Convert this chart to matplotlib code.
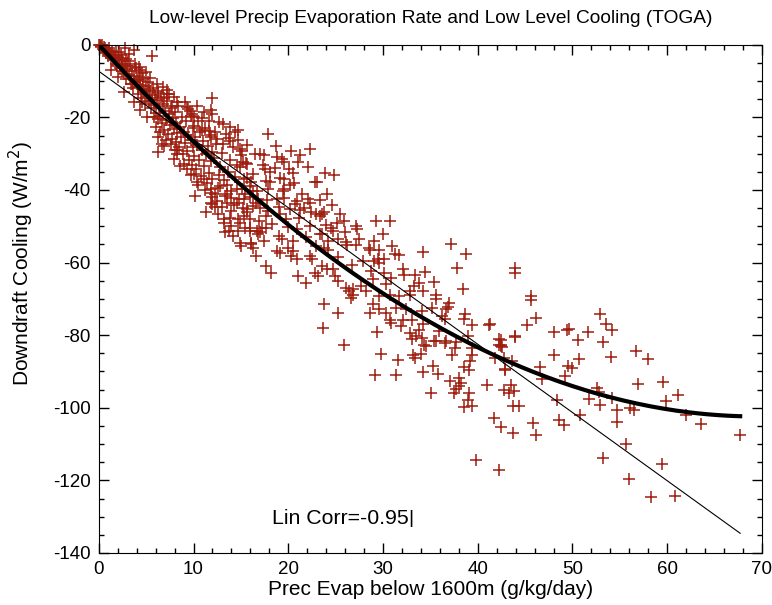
"""
Low-level precip evaporation rate vs low level (downdraft) cooling, TOGA.
Scatter of the samples with a linear and a cubic fit.
"""

import numpy as np
import matplotlib.pyplot as plt
from matplotlib.ticker import MultipleLocator

plt.rcParams['font.family'] = ['Liberation Sans', 'DejaVu Sans']
plt.rcParams['axes.unicode_minus'] = False

# --- data ----------------------------------------------------------------
# dense cloud near the origin (x 0-15)
evap_dense = [0.1, 0.2, 0.3, 0.4, 0.5, 0.6, 0.7, 0.8, 0.9, 1.0, 1.1, 1.2, 1.3, 1.4, 1.5,
              1.6, 1.7, 1.8, 1.9, 2.0, 2.1, 2.2, 2.3, 2.4, 2.5, 2.6, 2.7, 2.8, 2.9, 3.0,
              3.1, 3.2, 3.3, 3.4, 3.5, 3.6, 3.7, 3.8, 3.9, 4.0, 4.1, 4.2, 4.3, 4.4, 4.5,
              4.6, 4.7, 4.8, 4.9, 5.0, 5.1, 5.2, 5.3, 5.4, 5.5, 5.6, 5.7, 5.8, 5.9, 6.0,
              6.1, 6.2, 6.3, 6.4, 6.5, 6.6, 6.7, 6.8, 6.9, 7.0, 7.1, 7.2, 7.3, 7.4, 7.5,
              7.6, 7.7, 7.8, 7.9, 8.0, 8.1, 8.2, 8.3, 8.4, 8.5, 8.6, 8.7, 8.8, 8.9, 9.0,
              9.1, 9.2, 9.3, 9.4, 9.5, 9.6, 9.7, 9.8, 9.9, 10.0, 10.1, 10.2, 10.3, 10.4, 10.5,
              10.6, 10.7, 10.8, 10.9, 11.0, 11.1, 11.2, 11.3, 11.4, 11.5, 11.6, 11.7, 11.8, 11.9, 12.0,
              12.2, 12.4, 12.6, 12.8, 13.0, 13.2, 13.4, 13.6, 13.8, 14.0, 14.2, 14.4, 14.6, 14.8, 15.0,
              5.6, 3.7, 2.8, 1.8, 2.5, 1.3, 2.0, 4.4, 4.6, 3.4, 4.1, 5.3, 6.2, 7.2, 6.9,
              2.7, 3.7, 4.4, 5.1, 6.0, 6.3, 6.7, 7.6, 8.3, 6.3, 9.3, 9.8, 0.0, 0.2, 0.5,
              2.1, 2.4, 2.9, 3.2, 3.5, 3.8, 4.2, 4.6, 5.0, 5.4, 5.8, 6.1, 6.5, 6.8, 7.1,
              7.4, 7.7, 8.0, 8.3, 9.0, 9.4, 9.7, 10.1, 10.5, 10.9, 11.2, 11.6, 12.0, 12.3, 12.7,
              13.1, 13.5, 13.9, 14.3, 14.7]
cool_dense = [-0.2, -0.5, -0.1, -1.2, -0.6, -1.8, -0.9, -2.4, -1.5, -3.1, -0.8, -2.2, -3.6, -1.7, -4.3,
              -2.9, -3.8, -1.9, -5.9, -3.3, -4.6, -6.4, -2.7, -7.3, -4.1, -6.0, -8.1, -5.2, -9.4, -6.8,
              -4.4, -8.2, -5.9, -9.3, -7.1, -12.0, -8.6, -10.2, -6.5, -9.8, -13.5, -8.9, -11.1, -10.0, -14.8,
              -12.3, -9.5, -13.1, -16.2, -11.4, -14.0, -10.3, -15.6, -12.8, -17.3, -14.6, -11.9, -16.5, -13.7, -18.9,
              -15.2, -20.4, -12.6, -17.0, -19.5, -14.4, -21.6, -16.3, -23.5, -18.2, -20.7, -15.5, -24.6, -19.1, -22.0,
              -17.4, -25.9, -20.3, -23.1, -18.6, -26.8, -21.5, -24.2, -16.9, -28.1, -22.6, -25.3, -19.8, -30.2, -23.9,
              -27.0, -21.1, -29.4, -24.8, -31.8, -18.2, -26.1, -33.0, -28.3, -22.4, -30.6, -25.5, -34.1, -27.6, -20.9,
              -31.7, -24.0, -36.2, -29.0, -26.6, -33.4, -22.8, -30.1, -38.0, -27.9, -35.3, -24.9, -32.0, -29.5, -36.9,
              -31.1, -27.3, -39.4, -33.6, -29.8, -37.2, -24.5, -35.0, -31.7, -40.3, -28.2, -36.4, -33.1, -42.6, -30.4,
              -3.1, -1.5, -1.0, -5.2, -5.6, -7.0, -8.8, -7.0, -7.9, -10.7, -11.6, -12.5, -13.4, -12.5, -14.8,
              -13.0, -15.7, -18.0, -19.9, -22.7, -25.4, -27.3, -27.3, -29.1, -29.6, -17.1, -19.0, 0.0, -0.3, -1.4,
              -2.0, -3.6, -4.0, -2.6, -10.9, -5.3, -6.2, -15.8, -7.6, -9.1, -19.8, -10.8, -24.0, -11.5, -26.3,
              -13.6, -21.4, -28.9, -15.7, -32.8, -17.6, -36.0, -19.9, -38.6, -23.5, -40.1, -21.0, -42.0, -23.9, -35.8,
              -27.2, -38.5, -22.6, -44.2, -26.1]

# x 6-17
evap_low = [11.9, 11.8, 12.0, 14.7, 14.4, 12.7, 13.1, 13.7, 13.9, 14.9, 15.6, 10.4, 11.1, 10.9, 9.7,
            9.9, 11.6, 11.8, 12.5, 7.9, 7.2, 7.7, 9.1, 6.9, 7.9, 8.3, 8.6, 9.3, 10.0, 10.4,
            11.1, 10.2, 11.8, 12.3, 11.8, 12.3, 13.3, 13.5, 14.0, 14.7, 15.3, 16.0, 16.7, 12.8, 14.6,
            14.9, 16.3, 13.2, 14.0, 16.0]
cool_low = [-14.7, -18.1, -19.1, -23.4, -24.1, -21.4, -21.8, -25.8, -26.4, -28.7, -32.9, -16.8, -18.6, -20.2, -19.5,
            -22.9, -23.7, -25.5, -26.0, -14.4, -13.5, -16.8, -15.8, -27.8, -31.5, -30.1, -33.3, -34.3, -35.6, -37.9,
            -37.0, -41.6, -39.8, -41.2, -43.5, -44.8, -41.6, -43.5, -45.8, -48.1, -37.0, -38.9, -40.2, -38.9, -39.8,
            -33.8, -44.4, -49.0, -49.9, -50.4]

# x 11-33
evap_mid = [17.9, 18.7, 17.0, 17.4, 15.1, 18.8, 19.3, 19.5, 20.3, 21.2, 21.0, 22.3, 22.1, 15.5, 15.2,
            17.5, 18.1, 20.1, 20.5, 19.1, 19.5, 22.8, 23.0, 16.3, 15.6, 16.1, 17.7, 18.1, 20.2, 19.4,
            17.9, 15.1, 15.4, 16.3, 16.8, 16.6, 18.8, 19.5, 20.9, 20.7, 22.1, 22.3, 21.7, 21.2, 22.9,
            23.3, 15.6, 15.3, 17.0, 17.9, 17.7, 19.1, 19.8, 20.2, 17.2, 16.7, 16.8, 17.7, 19.0, 19.3,
            20.9, 20.5, 22.3, 23.3, 24.2, 18.8, 19.1, 16.1, 16.3, 20.0, 20.5, 20.3, 20.9, 22.3, 22.5,
            16.6, 17.7, 18.2, 21.0, 21.9, 22.8, 23.1, 14.9, 15.0, 16.0, 16.1, 17.0, 17.4, 14.0, 14.6,
            15.3, 15.6, 16.0, 14.9, 15.4, 13.3, 13.7, 14.2, 14.7, 11.3, 11.9, 12.5, 13.0, 12.6, 13.2,
            13.9, 11.8, 13.5,
            15.2, 15.6, 16.0, 16.5, 16.9, 17.3, 17.8, 18.3, 18.6, 19.0, 19.6, 20.0, 20.6, 21.1, 21.5,
            21.9, 22.4, 22.9, 23.4, 24.0, 24.6, 25.3, 26.0, 26.7, 27.5, 28.2, 29.0, 30.3, 31.0, 32.4]
cool_mid = [-24.6, -27.8, -30.1, -30.4, -29.2, -31.0, -31.5, -32.2, -29.2, -30.4, -32.4, -28.7, -33.8, -32.6, -32.2,
            -34.3, -35.0, -34.3, -35.2, -36.8, -37.0, -37.8, -37.9, -35.6, -36.8, -37.9, -37.5, -37.8, -38.7, -40.2,
            -39.8, -39.8, -41.2, -40.2, -42.5, -43.5, -42.5, -42.1, -43.0, -43.9, -42.4, -43.5, -45.1, -45.5, -46.7,
            -47.2, -46.2, -47.2, -45.1, -45.8, -47.2, -46.7, -48.1, -45.3, -50.4, -51.3, -52.2, -50.4, -52.7, -53.6,
            -50.8, -54.1, -49.9, -52.2, -54.1, -56.8, -57.5, -55.0, -55.9, -55.9, -56.8, -58.2, -59.1, -58.2, -59.1,
            -58.2, -61.0, -62.8, -63.7, -65.6, -63.0, -63.7, -54.5, -55.4, -51.3, -54.5, -51.7, -54.1, -42.1, -43.5,
            -42.5, -45.3, -48.1, -49.0, -50.4, -51.7, -51.3, -52.7, -51.3, -46.2, -43.9, -43.0, -44.8, -46.7, -48.1,
            -47.6, -40.7, -41.2,
            -44.9, -27.6, -41.9, -30.2, -48.6, -33.2, -42.9, -49.4, -33.9, -44.6, -39.6, -50.3, -38.2, -47.7, -41.2,
            -53.0, -46.1, -55.3, -42.8, -49.7, -44.2, -58.4, -51.6, -60.8, -53.4, -67.9, -54.1, -66.0, -55.4, -72.7]

# x 23-36
evap_upper = [23.9, 24.8, 24.1, 23.8, 23.6, 25.5, 25.9, 25.1, 24.5, 24.7, 29.3, 30.7, 27.2, 27.3, 30.0,
              23.6, 25.2, 26.1, 26.2, 23.8, 24.2, 27.2, 28.5, 28.6, 29.6, 31.3, 31.7, 27.9, 29.5, 30.1,
              29.1, 29.6, 23.6, 24.1, 24.7, 24.9, 25.2, 28.7, 28.9, 30.1, 30.8, 32.1, 32.2, 27.7, 26.8,
              26.1, 26.4, 26.8, 26.6, 29.6, 30.7, 31.7, 32.8, 23.8, 25.2, 28.6, 28.9, 29.6, 30.3, 30.7,
              30.8, 31.4, 32.1, 31.9, 23.7, 29.4, 32.8, 25.9, 29.8, 31.6, 29.2, 31.4, 34.5, 35.4]
cool_upper = [-35.4, -35.9, -41.2, -46.2, -46.7, -46.7, -48.5, -49.0, -50.6, -51.3, -48.5, -48.5, -49.9, -50.8, -52.2,
              -52.2, -53.6, -54.3, -55.2, -55.9, -56.4, -55.2, -55.9, -56.4, -56.4, -57.7, -58.0, -59.6, -58.9, -59.1,
              -59.6, -60.0, -61.0, -61.9, -61.7, -63.7, -65.1, -62.3, -64.4, -62.8, -64.2, -61.7, -63.3, -66.5, -67.4,
              -66.9, -67.9, -68.8, -69.7, -69.2, -68.8, -69.1, -68.8, -71.5, -73.8, -73.8, -71.5, -72.9, -73.8, -75.7,
              -76.6, -72.5, -75.7, -77.5, -78.0, -79.2, -79.4, -82.6, -85.1, -86.9, -91.1, -91.1, -82.9, -81.7]

# x 32-45
evap_far = [37.2, 34.2, 38.8, 37.8, 43.9, 43.9, 33.4, 34.4, 35.4, 33.8, 33.3, 32.9, 34.2, 38.4, 35.6,
            35.6, 37.0, 36.9, 36.7, 35.2, 36.2, 36.5, 38.7, 38.6, 34.1, 33.1, 34.2, 33.8, 39.4, 41.3,
            41.2, 39.0, 35.9, 35.6, 36.5, 36.7, 37.7, 37.6, 33.5, 34.1, 34.3, 33.1, 33.2, 33.4, 34.0,
            42.2, 42.5, 42.2, 42.6, 43.9, 39.4, 39.4, 39.2, 37.3, 41.8, 42.8, 42.9, 41.0, 35.3, 35.8,
            34.2, 38.6, 39.1, 37.1, 38.0, 38.2, 38.0, 37.7, 37.5, 39.1, 35.1, 39.0, 39.4, 38.5, 41.7,
            39.8]
cool_far = [-55.0, -57.1, -57.7, -61.6, -61.4, -62.8, -63.3, -62.6, -65.4, -65.7, -66.5, -67.9, -67.9, -67.4, -68.8,
            -70.0, -71.1, -72.2, -72.9, -72.5, -74.8, -75.5, -74.3, -75.5, -73.4, -75.9, -76.8, -78.5, -77.3, -76.8,
            -77.3, -80.1, -78.9, -81.5, -82.1, -81.7, -82.0, -83.5, -80.1, -80.8, -82.6, -81.0, -85.4, -86.3, -85.1,
            -81.0, -82.6, -82.6, -83.2, -80.3, -83.5, -85.4, -87.0, -85.6, -86.3, -86.3, -89.5, -93.6, -88.4, -90.6,
            -90.2, -88.8, -89.7, -92.7, -91.8, -93.2, -94.1, -94.8, -95.9, -95.9, -95.9, -97.8, -99.4, -99.9, -102.9,
            -114.4]

# x 42-69
evap_tail = [52.9, 53.5, 54.2, 53.2, 54.1, 56.7, 58.0, 56.9, 59.6, 61.1, 59.9, 52.8, 54.2, 52.9, 54.7,
             56.1, 56.5, 54.7, 62.0, 63.6, 67.7, 55.6, 53.2, 59.5, 56.0, 58.3, 60.8, 45.6, 45.6, 46.2,
             45.2, 43.9, 42.5, 42.5, 48.1, 49.4, 49.6, 50.6, 51.6, 48.0, 50.7, 46.6, 49.5, 49.9, 49.2,
             46.8, 42.9, 43.6, 43.5, 42.8, 43.3, 43.8, 43.7, 44.4, 48.4, 51.7, 52.6, 50.8, 48.6, 49.1,
             45.8, 46.1, 42.5, 43.7, 42.2]
cool_tail = [-74.3, -76.8, -78.7, -82.0, -86.1, -84.4, -86.5, -93.5, -93.0, -96.4, -98.1, -95.7, -97.3, -99.3, -100.7,
             -100.2, -100.6, -104.0, -101.9, -104.6, -107.5, -109.9, -113.7, -115.5, -119.5, -124.7, -124.4, -69.2, -70.2, -75.2,
             -77.3, -80.5, -81.2, -83.1, -79.2, -78.6, -78.3, -81.2, -79.0, -85.6, -86.6, -88.8, -88.4, -89.1, -91.3,
             -92.0, -89.3, -87.2, -93.6, -95.0, -95.9, -95.5, -99.4, -99.4, -97.8, -97.6, -94.6, -101.9, -103.5, -104.7,
             -104.2, -107.5, -105.2, -107.0, -117.1]

# fit coefficients (highest power first)
linear_fit = [-1.88, -7.3]
cubic_fit = [1.92e-5, 0.01859, -2.858, 0.0]
lin_corr = -0.95

evap = np.concatenate([evap_dense, evap_low, evap_mid, evap_upper, evap_far, evap_tail])
cooling = np.concatenate([cool_dense, cool_low, cool_mid, cool_upper, cool_far, cool_tail])

fig = plt.figure(figsize=(7.72, 6.05), dpi=100)
ax = fig.add_axes([0.128, 0.086, 0.859, 0.840])

ax.plot(evap, cooling, ls='none', marker='+', ms=8, mew=1.1, color='#9e1d0e', clip_on=False)

xfit = np.linspace(0, evap.max(), 200)
ax.plot(xfit, np.polyval(linear_fit, xfit), color='black', lw=0.8)
ax.plot(xfit, np.polyval(cubic_fit, xfit), color='black', lw=3.0)

ax.text(18.3, -130.5, f"Lin Corr={lin_corr:.2f}", fontsize=15.3, va='center', ha='left')
ax.text(32.9, -130.5, "|", fontsize=14, va='center', ha='center', fontweight='light')

ax.set_xlim(0, 70)
ax.set_ylim(-140, 0)
ax.xaxis.set_major_locator(MultipleLocator(10))
ax.xaxis.set_minor_locator(MultipleLocator(2))
ax.yaxis.set_major_locator(MultipleLocator(20))
ax.yaxis.set_minor_locator(MultipleLocator(5))
ax.tick_params(which='both', direction='in', top=True, right=True, labelsize=13.5, width=1)
ax.tick_params(which='major', length=7.5, pad=6)
ax.tick_params(which='minor', length=3.8)

ax.set_title("Low-level Precip Evaporation Rate and Low Level Cooling (TOGA)", fontsize=13.8, pad=16)
ax.set_xlabel("Prec Evap below 1600m (g/kg/day)", fontsize=15, labelpad=1)
ax.set_ylabel("Downdraft Cooling (W/m$^2$)", fontsize=15, labelpad=8)
ax.yaxis.set_label_coords(-0.095, 0.57)

fig.savefig("out.png", dpi=100)
